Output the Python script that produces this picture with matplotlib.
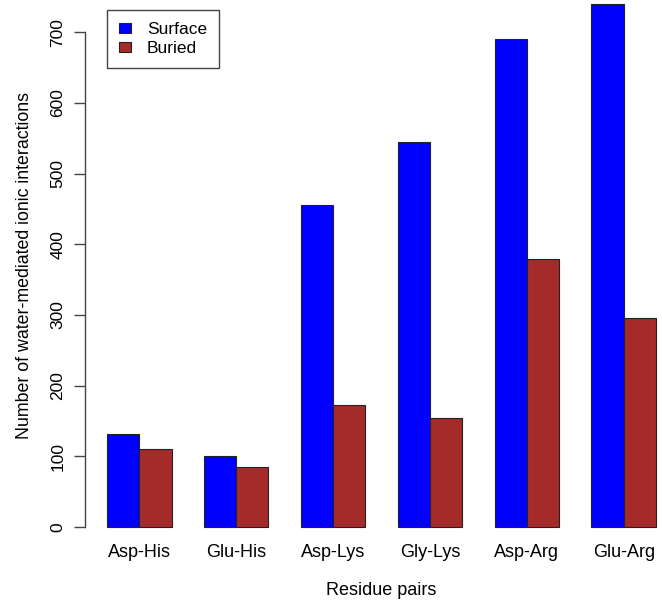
import numpy as np
import matplotlib
matplotlib.use("Agg")
import matplotlib.pyplot as plt

plt.rcParams["font.family"] = ["Liberation Sans", "DejaVu Sans"]

pairs = ["Asp-His", "Glu-His", "Asp-Lys", "Gly-Lys", "Asp-Arg", "Glu-Arg"]
surface = [131, 100, 455, 544, 690, 740]
buried = [110, 85, 173, 154, 379, 296]
yticks = [0, 100, 200, 300, 400, 500, 600, 700]

fig = plt.figure(figsize=(6.62, 6.11), dpi=100)
# plot region placed like R's barplot (partly cropped at top/right)
ax = fig.add_axes([85 / 662, 63 / 611, 593 / 662, 565 / 611])

group_start = 1 + 3 * np.arange(len(pairs))
ax.bar(group_start + 0.5, surface, width=1.0, color="#0000FF",
       edgecolor="#222222", linewidth=0.8, label="Surface")
ax.bar(group_start + 1.5, buried, width=1.0, color="#A52A2A",
       edgecolor="#222222", linewidth=0.8, label="Buried")

ax.set_xlim(0.32, 18.68)
ax.set_ylim(-29.6, 769.6)

for side in ["top", "right", "bottom"]:
    ax.spines[side].set_visible(False)
ax.spines["left"].set_bounds(0, 700)
ax.spines["left"].set_color("#444444")
ax.spines["left"].set_linewidth(1.0)

ax.set_yticks(yticks)
ax.set_yticklabels([str(v) for v in yticks], rotation=90, va="center")
ax.tick_params(axis="y", length=8, width=1.0, color="#444444", pad=6,
               labelsize=12.5)

ax.set_xticks(group_start + 1.0)
ax.set_xticklabels(pairs)
ax.tick_params(axis="x", length=0, pad=-3, labelsize=13)

ax.set_xlabel("Residue pairs", fontsize=13)
ax.xaxis.label.set_va("center")
ax.xaxis.set_label_coords(0.5, -0.0761)
ax.set_ylabel("Number of water-mediated ionic interactions", fontsize=12.8)
ax.yaxis.label.set_va("center")
ax.yaxis.set_label_coords(-0.1012, 0.5)

leg = fig.legend(loc="upper left", bbox_to_anchor=(107 / 662, 1 - 10 / 611),
                 borderaxespad=0, borderpad=0.7, fancybox=False,
                 edgecolor="#444444", framealpha=1, fontsize=12.5,
                 handlelength=0.7, handleheight=0.55, handletextpad=0.9,
                 labelspacing=0.22)
leg.get_frame().set_linewidth(1.0)

fig.savefig("out.png", dpi=100)
